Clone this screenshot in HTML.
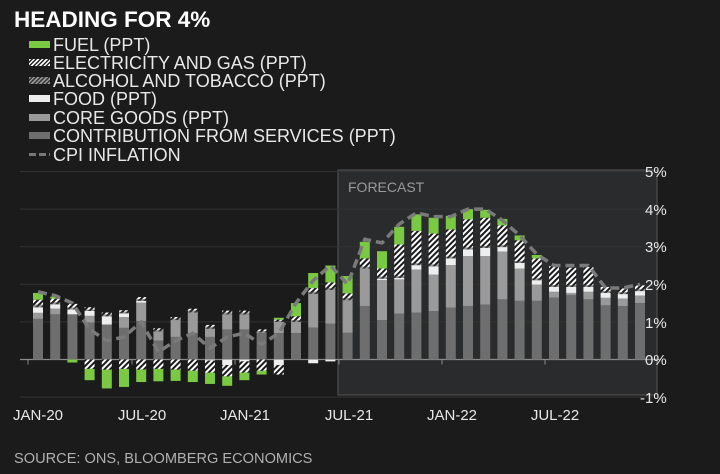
<!DOCTYPE html>
<html><head><meta charset="utf-8"><style>
html,body{margin:0;padding:0;background:#1b1b1b;}
body{width:720px;height:474px;overflow:hidden;position:relative;font-family:"Liberation Sans",sans-serif;}
.t{position:absolute;left:14px;top:7px;color:#fff;font-weight:bold;font-size:22.5px;}
.lg{position:absolute;left:29px;font-size:18px;color:#e8e8e8;line-height:18px;white-space:nowrap;}
.lg span{display:inline-block;width:21px;height:7px;margin-right:3px;vertical-align:3px;}
.src{position:absolute;left:14px;top:451px;color:#b0b0b0;font-size:14.6px;}
</style></head><body>
<div class="t">HEADING FOR 4%</div>
<div class="lg" style="top:36px"><span style="background:#7ac943"></span>FUEL (PPT)</div>
<div class="lg" style="top:54px"><span style="background:repeating-linear-gradient(135deg,#fff 0 1.5px,#222 1.5px 3px)"></span>ELECTRICITY AND GAS (PPT)</div>
<div class="lg" style="top:72px"><span style="background:repeating-linear-gradient(135deg,#999 0 1.5px,#333 1.5px 3px)"></span>ALCOHOL AND TOBACCO (PPT)</div>
<div class="lg" style="top:90px"><span style="background:#eee"></span>FOOD (PPT)</div>
<div class="lg" style="top:109px"><span style="background:#9a9a9a"></span>CORE GOODS (PPT)</div>
<div class="lg" style="top:127px"><span style="background:#6e6e6e"></span>CONTRIBUTION FROM SERVICES (PPT)</div>
<div class="lg" style="top:146px"><span style="background:repeating-linear-gradient(90deg,#777 0 7px,transparent 7px 10px);height:3px;vertical-align:5px"></span>CPI INFLATION</div>
<svg id="c" width="720" height="474" style="position:absolute;left:0;top:0" xmlns="http://www.w3.org/2000/svg">
<defs>
<pattern id="he" patternUnits="userSpaceOnUse" width="4" height="4" patternTransform="rotate(45)"><rect width="4" height="4" fill="#1a1a1a"/><rect width="2" height="4" fill="#fff"/></pattern>
<pattern id="ha" patternUnits="userSpaceOnUse" width="4" height="4" patternTransform="rotate(45)"><rect width="4" height="4" fill="#333"/><rect width="2" height="4" fill="#999"/></pattern>
</defs>
<rect x="338" y="170" width="319" height="225" fill="#2a2b2d" stroke="#555" stroke-width="1"/>
<text x="348" y="192" fill="#9a9a9a" font-size="14" font-family="Liberation Sans">FORECAST</text>
<g id="grid"></g>
<g id="bars"></g>
<g id="line"></g>
<g font-family="Liberation Sans" font-size="15" fill="#e8e8e8">
<text x="645" y="177">5%</text><text x="645" y="215">4%</text><text x="645" y="252">3%</text><text x="645" y="290">2%</text><text x="645" y="328">1%</text><text x="645" y="365">0%</text><text x="640" y="403">-1%</text>
<text x="38" y="420" text-anchor="middle">JAN-20</text><text x="142" y="420" text-anchor="middle">JUL-20</text><text x="245" y="420" text-anchor="middle">JAN-21</text><text x="349" y="420" text-anchor="middle">JUL-21</text><text x="452" y="420" text-anchor="middle">JAN-22</text><text x="555" y="420" text-anchor="middle">JUL-22</text>
</g>
</svg>
<div class="src">SOURCE: ONS, BLOOMBERG ECONOMICS</div>
<script>
var Z=359.5,K=37.6,ns="http://www.w3.org/2000/svg";
function el(t,a,p){var e=document.createElementNS(ns,t);for(var k in a)e.setAttribute(k,a[k]);document.getElementById(p).appendChild(e);return e;}
for(var i=-1;i<=5;i++){if(i==0)continue;el('line',{x1:20,x2:660,y1:Z-i*K,y2:Z-i*K,stroke:'#333','stroke-width':1},'grid');}
var d=[
[1.08,.16,.15,.07,.13,.18,0,0,0,1.8],
[1.2,.15,.12,.05,.1,.05,0,0,0,1.7],
[1.2,0,.13,.05,.1,0,0,0,-.08,1.5],
[.98,.18,.13,.04,.06,0,0,-.25,-.3,.8],
[.93,0,.22,.05,.05,0,0,-.27,-.5,.5],
[.84,.29,.1,.04,.04,0,0,-.25,-.48,.6],
[1.02,.49,.05,.05,.05,0,0,-.27,-.33,1.0],
[.5,.25,0,.04,.04,0,0,-.25,-.33,.2],
[.6,.45,0,.04,.04,0,0,-.27,-.3,.5],
[.7,.55,0,.05,.05,0,0,-.3,-.3,.7],
[.6,.22,0,.05,.05,0,-.03,-.32,-.3,.3],
[.8,.4,0,.05,.05,0,-.15,-.3,-.25,.6],
[.8,.4,0,.05,.05,0,-.05,-.3,-.2,.7],
[.7,.02,0,.04,.04,0,0,-.3,-.1,.4],
[.7,.3,0,.03,.03,.05,-.15,-.25,0,.7],
[.7,.3,0,.05,.1,.35,0,0,0,1.5],
[.85,.9,0,.05,.1,.4,-.1,0,0,2.1],
[.95,.9,0,.05,.15,.45,-.05,0,0,2.5],
[.71,.87,0,.05,.13,.46,0,0,0,2.0],
[1.42,1.0,0,.05,.22,.44,0,0,0,3.2],
[1.05,1.06,.04,.05,.22,.46,0,0,0,3.1],
[1.22,.91,.04,.05,.84,.47,0,0,0,3.6],
[1.25,1.14,.12,.05,.86,.44,0,0,0,3.9],
[1.29,.97,.22,.05,.82,.42,0,0,0,3.8],
[1.38,1.13,.18,.05,.72,.36,0,0,0,3.8],
[1.42,1.33,.18,.05,.75,.27,0,0,0,4.0],
[1.46,1.29,.22,.05,.75,.21,0,0,0,4.0],
[1.6,1.27,.12,.05,.53,.17,0,0,0,3.7],
[1.56,.86,.15,.05,.55,.13,0,0,0,3.3],
[1.56,.43,.12,.05,.53,.09,0,0,0,2.8],
[1.65,.15,.13,.05,.5,0,0,0,0,2.5],
[1.71,.06,.16,.05,.46,0,0,0,0,2.5],
[1.6,.2,.13,.05,.48,0,0,0,0,2.5],
[1.44,.2,.13,.05,.11,0,0,0,0,1.9],
[1.42,.2,.12,.05,.1,0,0,0,0,1.9],
[1.5,.2,.12,.05,.1,0,0,0,0,2.0]];
var cols=['#6e6e6e','#9a9a9a','#eeeeee','url(#ha)','url(#he)','#7ac943'];
var pts=[];
d.forEach(function(r,i){
 var x=38+i*17.2,w=10,y=0;
 for(var j=0;j<6;j++){if(r[j]<=0)continue;el('rect',{x:x-w/2,y:Z-(y+r[j])*K,width:w,height:r[j]*K,fill:cols[j]},'bars');y+=r[j];}
 var n=0,nc=['#eeeeee','url(#he)','#7ac943'];
 for(var j=6;j<9;j++){if(r[j]>=0)continue;el('rect',{x:x-w/2,y:Z-n*K,width:w,height:-r[j]*K,fill:nc[j-6]},'bars');n+=r[j];}
 pts.push(x+','+(Z-r[9]*K));
});
el('line',{x1:20,x2:660,y1:Z,y2:Z,stroke:'#8a8a8a','stroke-width':1.2},'grid');
[28,132,235,339,442,545,657].forEach(function(x){el('line',{x1:x,x2:x,y1:Z,y2:Z+5,stroke:'#8a8a8a','stroke-width':1},'grid');});
el('polyline',{points:pts.join(' '),fill:'none',stroke:'#7a7a7a','stroke-width':3.5,'stroke-dasharray':'9,5','stroke-linejoin':'round'},'line');
</script>
</body></html>
